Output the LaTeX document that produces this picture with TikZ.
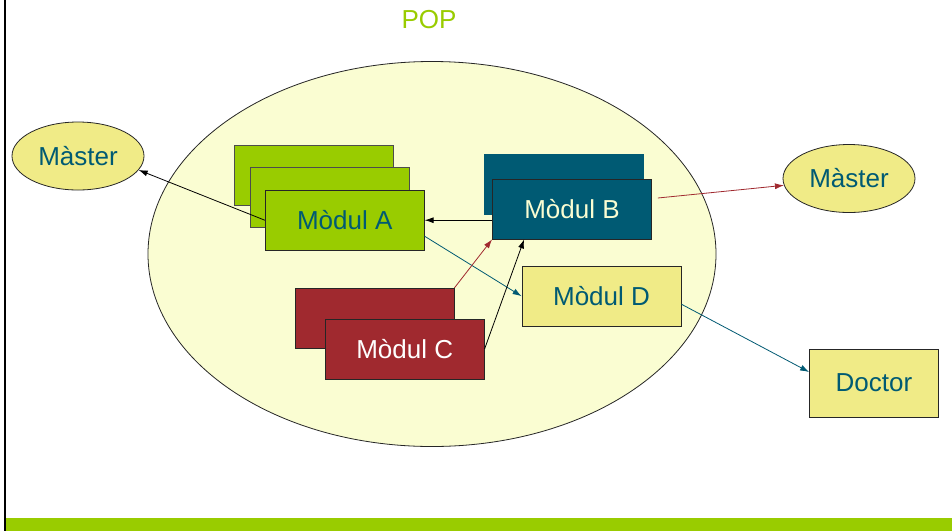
\documentclass[tikz,border=0pt]{standalone}
\usepackage{fontspec}
\setmainfont{Liberation Sans}
\usetikzlibrary{arrows.meta,shapes.geometric}
\begin{document}
\begin{tikzpicture}[x=1pt,y=-1pt,
  modbox/.style={draw=black!85,line width=0.8pt,minimum width=159pt,minimum height=60pt,inner sep=0pt,font=\fontsize{26}{30}\selectfont},
  pill/.style={ellipse,draw=black!85,line width=0.8pt,fill=khaki,text=modblue,minimum width=132pt,minimum height=68pt,inner sep=0pt,font=\fontsize{26}{30}\selectfont},
  link/.style={line width=0.8pt,-{Latex[length=9pt,width=6pt]}}]
  \definecolor{popgreen}{HTML}{99CC00}
  \definecolor{modblue}{HTML}{005A73}
  \definecolor{modred}{HTML}{A0292F}
  \definecolor{khaki}{HTML}{F0EB87}
  \definecolor{pale}{HTML}{FAFDD2}
  \useasboundingbox (0,0) rectangle (952,531);
  \fill [white] (0,0) rectangle (952,531);
  \fill [popgreen] (6,518) rectangle (952,531);
  \draw [line width=2.5pt] (5,0) -- (5,531);
  \node [text=popgreen,font=\fontsize{26}{30}\selectfont] (pop) at (429,20) {POP};
  \filldraw [fill=pale,draw=black!85,line width=0.8pt] (432,254) ellipse (284 and 192.5);
  \node [pill] (masterL) at (78,156) {Màster};
  \node [pill] (masterR) at (849,178.5) {Màster};
  \node [modbox,fill=popgreen,draw=black!70] (modAback) at (314,175) {};
  \node [modbox,fill=popgreen,draw=black!70] (modAmid) at (329.5,197.5) {};
  \node [modbox,fill=popgreen,text=modblue] (modA) at (344.7,220.2) {Mòdul A};
  \node [modbox,fill=modblue,draw=modblue] (modBback) at (564,184.7) {};
  \node [modbox,fill=modblue,text=pale] (modB) at (572,209) {Mòdul B};
  \node [modbox,fill=modred] (modCback) at (374.5,318.3) {};
  \node [modbox,fill=modred,text=white] (modC) at (404.7,348.9) {Mòdul C};
  \node [modbox,fill=khaki,text=modblue] (modD) at (601.5,296.2) {Mòdul D};
  \node [modbox,fill=khaki,text=modblue,minimum width=129pt,minimum height=68pt] (doctor) at (874,383) {Doctor};
  \draw [link] (modA.west) -- (masterL.-13);
  \draw [link] (modA.east -| modB.west) -- (modA.east);
  \draw [link,modred] ([shift={(6pt,11pt)}]modB.east) -- (masterR.186);
  \draw [link,modblue] ([yshift=-16pt]modA.east) -- (modD.west);
  \draw [link,modred] (modCback.north east) -- (modB.south west);
  \draw [link] (modC.east) -- ([xshift=32pt]modB.south west);
  \draw [link,modblue] ([yshift=-8pt]modD.east) -- ([yshift=11pt]doctor.west);
\end{tikzpicture}
\end{document}
